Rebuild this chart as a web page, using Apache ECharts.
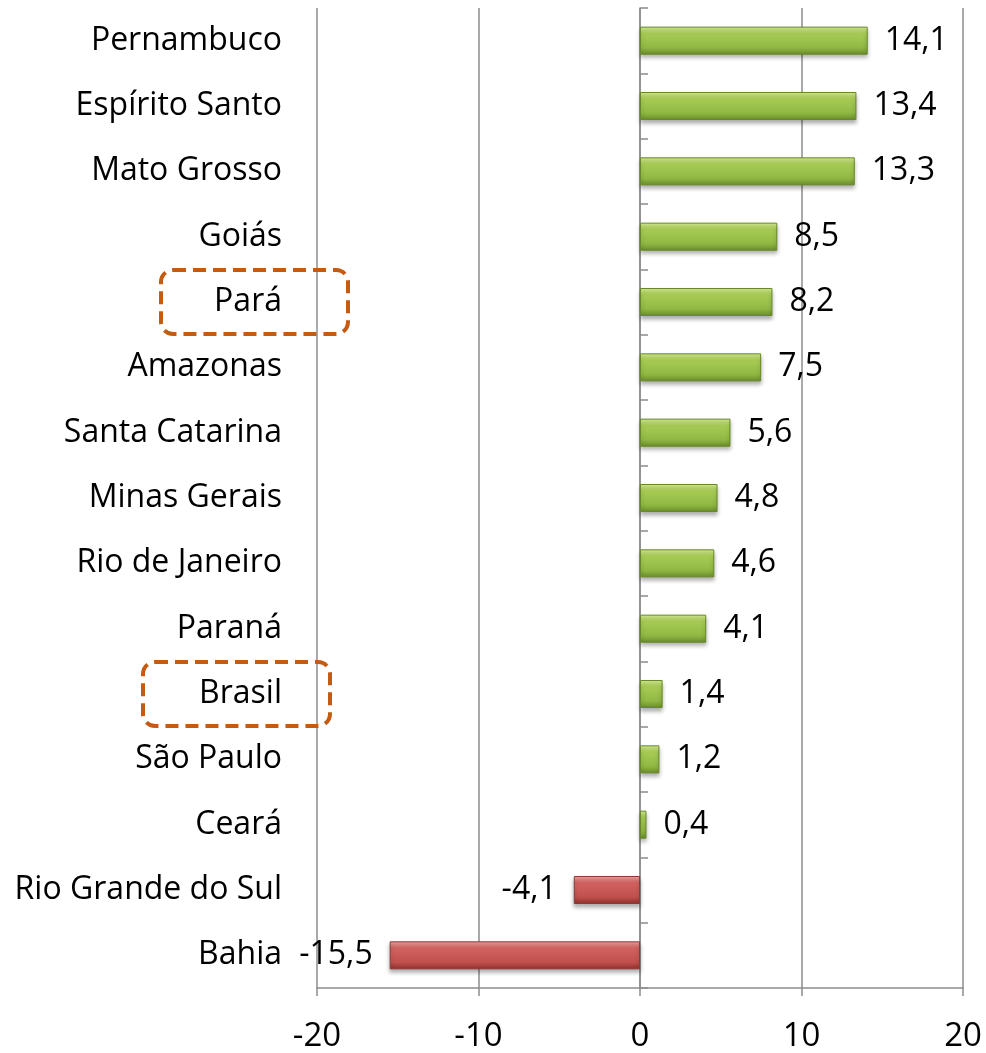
<!DOCTYPE html>
<html>
<head>
<meta charset="utf-8">
<script src="https://cdn.jsdelivr.net/npm/echarts@6/dist/echarts.min.js"></script>
<style>
  html, body { margin: 0; padding: 0; background: #fff; }
  #chart { width: 986px; height: 1053px; }
</style>
</head>
<body>
<div id="chart"></div>
<script>
// estados, de cima para baixo
var categories = ['Pernambuco', 'Espírito Santo', 'Mato Grosso', 'Goiás', 'Pará', 'Amazonas',
  'Santa Catarina', 'Minas Gerais', 'Rio de Janeiro', 'Paraná', 'Brasil', 'São Paulo',
  'Ceará', 'Rio Grande do Sul', 'Bahia'];
var values = [14.1, 13.4, 13.3, 8.5, 8.2, 7.5, 5.6, 4.8, 4.6, 4.1, 1.4, 1.2, 0.4, -4.1, -15.5];
var xTicks = [-20, -10, 0, 10, 20];

var FONT = 'Open Sans';
var grey = '#8c8c8c';

var green = new echarts.graphic.LinearGradient(0, 0, 0, 1, [
  { offset: 0, color: '#d6ee92' },
  { offset: 0.25, color: '#a8cc55' },
  { offset: 0.75, color: '#8fb843' },
  { offset: 1, color: '#6a8c2a' }
]);
var red = new echarts.graphic.LinearGradient(0, 0, 0, 1, [
  { offset: 0, color: '#eea5a3' },
  { offset: 0.25, color: '#d2625f' },
  { offset: 0.75, color: '#c0504d' },
  { offset: 1, color: '#8f302d' }
]);

var barData = values.map(function (v) {
  var neg = v < 0;
  return {
    value: v,
    itemStyle: {
      color: neg ? red : green,
      borderColor: neg ? '#8a3a38' : '#67872a'
    },
    label: { position: neg ? 'left' : 'right' }
  };
});

var chart = echarts.init(document.getElementById('chart'));
var opt = {
  backgroundColor: '#fff',
  animation: false,
  grid: { left: 317, right: 23, top: 8, bottom: 62 },
  xAxis: {
    type: 'value',
    min: xTicks[0],
    max: xTicks[xTicks.length - 1],
    interval: 10,
    axisLine: { show: true, lineStyle: { color: grey, width: 1.5 } },
    axisTick: { show: true, length: 8, lineStyle: { color: grey, width: 1.5 } },
    axisLabel: {
      color: '#000', fontFamily: FONT, fontSize: 33, margin: 32,
      formatter: function (v) { return String(v); }
    },
    splitLine: { show: true, lineStyle: { color: grey, width: 1.5 } }
  },
  yAxis: [{
    type: 'category',
    data: categories,
    inverse: true,
    axisLine: { show: false, onZero: false },
    axisTick: { show: false },
    axisLabel: { color: '#000', fontFamily: FONT, fontSize: 32, margin: 35, padding: [4, 0, 0, 0] }
  }, {
    type: 'category',
    data: categories,
    inverse: true,
    axisLine: { show: true, onZero: true, lineStyle: { color: grey, width: 1.5 } },
    axisTick: { show: true, length: 8, lineStyle: { color: grey, width: 1.5 } },
    axisLabel: { show: false }
  }],
  series: [{
    type: 'bar',
    yAxisIndex: 0,
    barWidth: 28,
    data: barData,
    itemStyle: {
      borderWidth: 1,
      shadowColor: 'rgba(0,0,0,0.3)',
      shadowBlur: 4,
      shadowOffsetY: 3
    },
    label: {
      show: true,
      distance: 17,
      color: '#000',
      fontFamily: FONT,
      fontSize: 32,
      padding: [4, 0, 0, 0],
      formatter: function (p) { return String(p.value).replace('.', ','); }
    }
  }]
};
chart.setOption(opt);

// caixas tracejadas em volta de Pará e Brasil
var gridLeft = 317;
var boxes = [
  { name: 'Pará', x0: gridLeft - 156, x1: gridLeft + 31 },
  { name: 'Brasil', x0: gridLeft - 174, x1: gridLeft + 13 }
];
var graphics = boxes.map(function (b) {
  var cy = chart.convertToPixel({ yAxisIndex: 0 }, b.name);
  return {
    type: 'rect',
    shape: { x: b.x0, y: cy - 32, width: b.x1 - b.x0, height: 64, r: 12 },
    style: { fill: null, stroke: '#c55a11', lineWidth: 4, lineDash: [13, 7] },
    z: 10
  };
});
chart.setOption({ graphic: graphics });
</script>
</body>
</html>
